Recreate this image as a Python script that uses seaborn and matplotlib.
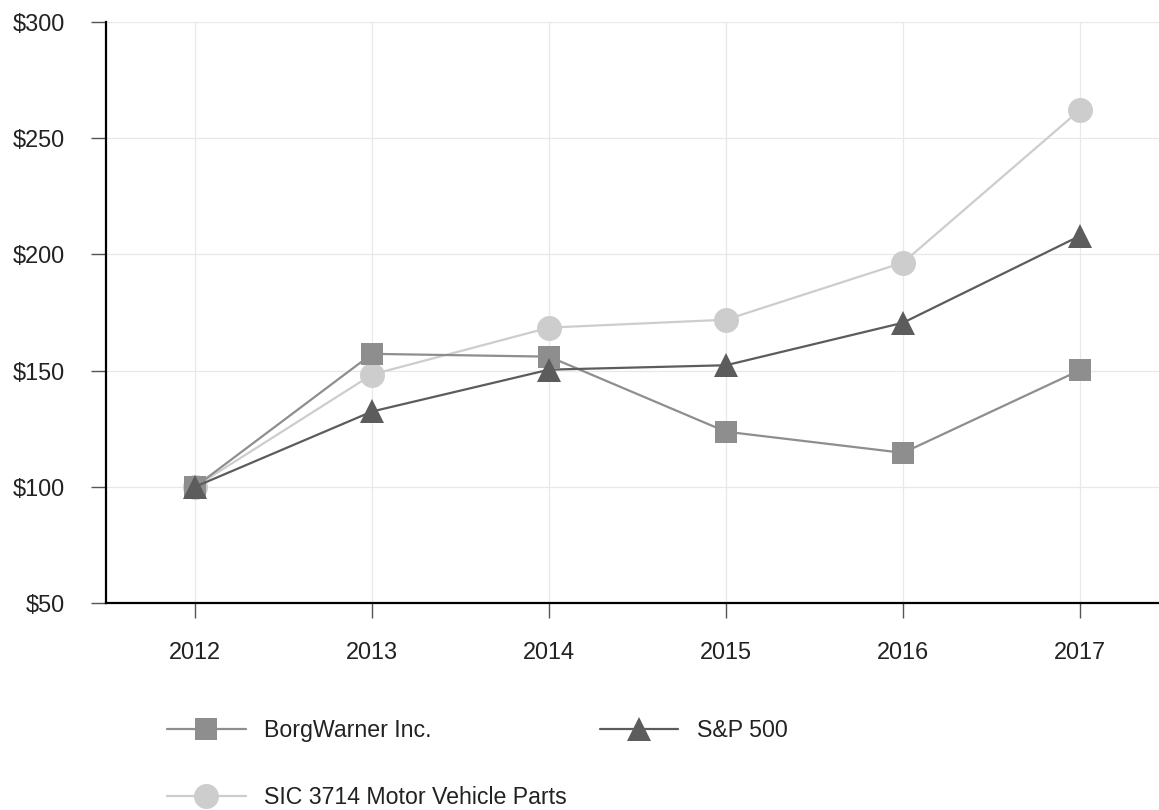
import pandas as pd
import seaborn as sns
import matplotlib.pyplot as plt
from matplotlib.lines import Line2D

years = [2012, 2013, 2014, 2015, 2016, 2017]
borgwarner = [100, 157.2, 156.0, 123.7, 114.6, 150.2]
sp500 = [100, 132.4, 150.4, 152.3, 170.6, 208.0]
sic3714 = [100, 148.3, 168.5, 171.9, 196.5, 262.2]
series_names = ['BorgWarner Inc.', 'S&P 500', 'SIC 3714 Motor Vehicle Parts']
y_ticks = [50, 100, 150, 200, 250, 300]

df = pd.DataFrame({
    'year': years * 3,
    'value': borgwarner + sp500 + sic3714,
    'series': [series_names[0]] * 6 + [series_names[1]] * 6 + [series_names[2]] * 6,
})

colors = {series_names[0]: '#8e8e8e', series_names[1]: '#5c5c5c', series_names[2]: '#cdcdcd'}
markers = {series_names[0]: 's', series_names[1]: '^', series_names[2]: 'o'}
msizes = {series_names[0]: 16.5, series_names[1]: 17, series_names[2]: 18}

sns.set_style('white')
plt.rcParams['font.family'] = ['Liberation Sans', 'DejaVu Sans']

fig = plt.figure(figsize=(11.59, 8.10), dpi=100)
ax = fig.add_axes([0.0915, 0.2556, 0.9085, 0.7172])

for name in [series_names[2], series_names[0], series_names[1]]:
    sns.lineplot(data=df[df['series'] == name], x='year', y='value', ax=ax,
                 color=colors[name], marker=markers[name], markersize=msizes[name],
                 markeredgewidth=0, linewidth=1.6, legend=False)

ax.set_xlim(2011.497, 2017.446)
ax.set_ylim(50, 300)
ax.set_xticks(years)
ax.set_xticklabels([str(y) for y in years])
ax.set_yticks(y_ticks)
ax.set_yticklabels(['$%d' % v for v in y_ticks])
ax.set_xlabel('')
ax.set_ylabel('')
ax.grid(True, color='#e8e8e8', linewidth=0.9)
ax.set_axisbelow(True)
ax.tick_params(axis='both', bottom=True, left=True, labelsize=16.9, length=10.5, width=1,
               color='#555555', labelcolor='#222222', direction='out')
ax.tick_params(axis='x', pad=17)
ax.tick_params(axis='y', pad=19)
for s in ['top', 'right']:
    ax.spines[s].set_visible(False)
for s in ['left', 'bottom']:
    ax.spines[s].set_color('black')
    ax.spines[s].set_linewidth(1.6)

order = [series_names[0], series_names[2], series_names[1]]
handles = [Line2D([], [], color=colors[n], marker=markers[n], markersize=msizes[n],
                  markeredgewidth=0, linewidth=1.6) for n in order]
fig.legend(handles, order, loc='upper left', bbox_to_anchor=(0.144, 0.112), ncol=2,
           frameon=False, fontsize=16.7, handlelength=3.4, handletextpad=0.8,
           labelspacing=1.9, columnspacing=1.4, borderaxespad=0, borderpad=0,
           labelcolor='#222222')

fig.savefig('out.png', dpi=100)
